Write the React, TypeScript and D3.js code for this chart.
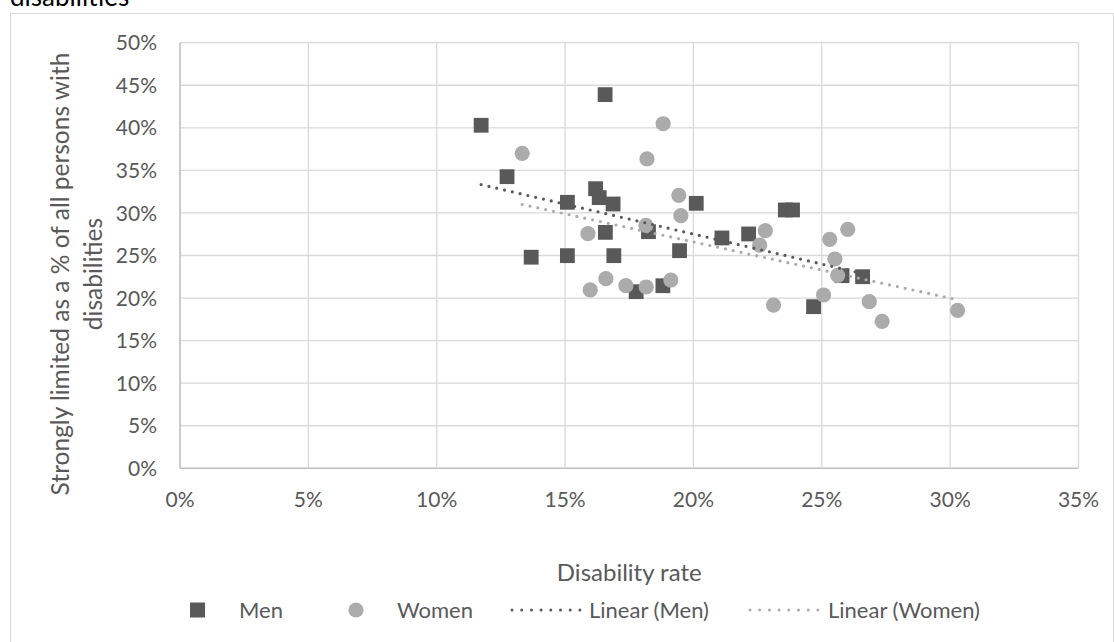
import React from 'react';
import * as d3 from 'd3';

// Men: disability rate (%) and strongly limited share (%)
const menRate = [16.56, 11.73, 12.74, 16.19, 16.33, 16.87, 15.09, 20.11, 16.57, 18.25, 21.11, 13.68, 15.09, 16.9, 19.46, 17.77, 18.81, 22.15, 23.58, 23.86, 25.79, 26.59, 24.68];
const menLimited = [43.9, 40.3, 34.26, 32.85, 31.8, 31.05, 31.25, 31.13, 27.72, 27.8, 27.06, 24.8, 24.98, 24.98, 25.57, 20.75, 21.45, 27.53, 30.35, 30.35, 22.63, 22.51, 18.99];

// Women
const womenRate = [18.82, 13.33, 18.19, 19.43, 19.51, 18.15, 15.89, 15.98, 16.59, 17.37, 18.16, 19.12, 22.8, 22.58, 25.31, 26.01, 25.51, 25.62, 23.12, 25.07, 26.85, 27.35, 30.29];
const womenLimited = [40.48, 37.0, 36.34, 32.07, 29.68, 28.55, 27.56, 20.95, 22.28, 21.45, 21.3, 22.12, 27.92, 26.23, 26.9, 28.08, 24.59, 22.67, 19.18, 20.36, 19.57, 17.27, 18.56];

const xTicks = [0, 5, 10, 15, 20, 25, 30, 35];
const yTicks = [0, 5, 10, 15, 20, 25, 30, 35, 40, 45, 50];

const legendLabels = ['Men', 'Women', 'Linear (Men)', 'Linear (Women)'];

const MEN = '#595959';
const WOMEN = '#ABABAB';
const GRID = '#d9d9d9';
const TEXT = '#595959';
const FONT = 'Lato, "Open Sans", sans-serif';

function linfit(xs: number[], ys: number[]) {
  const mx = d3.mean(xs)!;
  const my = d3.mean(ys)!;
  let num = 0, den = 0;
  xs.forEach((x, i) => { num += (x - mx) * (ys[i] - my); den += (x - mx) * (x - mx); });
  const b = num / den;
  const a = my - b * mx;
  const [x0, x1] = d3.extent(xs) as [number, number];
  return [[x0, a + b * x0], [x1, a + b * x1]] as [number, number][];
}

export default function App() {
  const W = 1114, H = 642;
  const x = d3.scaleLinear().domain([0, 35]).range([180, 1078.5]);
  const y = d3.scaleLinear().domain([0, 50]).range([468.3, 42.7]);
  const line = d3.line<[number, number]>().x(d => x(d[0])).y(d => y(d[1]));
  const menTrend = linfit(menRate, menLimited);
  const womenTrend = linfit(womenRate, womenLimited);
  const sq = 14.8;
  const ly = 610;

  return (
    <svg width={W} height={H} style={{ position: 'absolute', left: 0, top: 0, background: '#fff' }} fontFamily={FONT}>
      <text x={10} y={6} fontSize={26} fill="#000">disabilities</text>
      <rect x={10.5} y={13.5} width={1103} height={640} fill="#fff" stroke={GRID} strokeWidth={1} />

      {/* grid */}
      {yTicks.map(t => (
        <line key={'gy' + t} x1={x(0)} x2={x(35)} y1={y(t)} y2={y(t)} stroke={t === 0 ? '#bfbfbf' : GRID} strokeWidth={t === 0 ? 1.6 : 1.3} />
      ))}
      {xTicks.map(t => (
        <line key={'gx' + t} x1={x(t)} x2={x(t)} y1={y(0)} y2={y(50)} stroke={t === 0 ? '#bfbfbf' : GRID} strokeWidth={t === 0 ? 1.6 : 1.3} />
      ))}

      {/* tick labels */}
      {yTicks.map(t => (
        <text key={'ty' + t} x={157} y={y(t)} dy="0.36em" textAnchor="end" fontSize={21} fill={TEXT}>{t}%</text>
      ))}
      {xTicks.map(t => (
        <text key={'tx' + t} x={x(t)} y={499.5} dy="0.36em" textAnchor="middle" fontSize={21} fill={TEXT}>{t}%</text>
      ))}

      {/* axis titles */}
      <text x={(x(0) + x(35)) / 2} y={572} dy="0.36em" textAnchor="middle" fontSize={24} fill={TEXT}>Disability rate</text>
      <g transform="translate(60,274) rotate(-90)">
        <text x={0} y={0} dy="0.36em" textAnchor="middle" fontSize={24.5} fill={TEXT}>Strongly limited as a % of all persons with</text>
        <text x={0} y={33} dy="0.36em" textAnchor="middle" fontSize={24.5} fill={TEXT}>disabilities</text>
      </g>

      {/* markers */}
      {menRate.map((r, i) => (
        <rect key={'m' + i} x={x(r) - sq / 2} y={y(menLimited[i]) - sq / 2} width={sq} height={sq} fill={MEN} />
      ))}
      {womenRate.map((r, i) => (
        <circle key={'w' + i} cx={x(r)} cy={y(womenLimited[i])} r={7.6} fill={WOMEN} />
      ))}

      {/* trendlines */}
      <path d={line(menTrend)!} fill="none" stroke={MEN} strokeWidth={3.2} strokeLinecap="round" strokeDasharray="0 8" />
      <path d={line(womenTrend)!} fill="none" stroke={WOMEN} strokeWidth={3.2} strokeLinecap="round" strokeDasharray="0 8" />

      {/* legend */}
      <rect x={190} y={ly - 7.5} width={15} height={15} fill={MEN} />
      <text x={239} y={ly} dy="0.36em" fontSize={22} fill={TEXT}>{legendLabels[0]}</text>
      <circle cx={356} cy={ly} r={7.6} fill={WOMEN} />
      <text x={397} y={ly} dy="0.36em" fontSize={22} fill={TEXT}>{legendLabels[1]}</text>
      <line x1={512} x2={580} y1={ly} y2={ly} stroke={MEN} strokeWidth={3} strokeLinecap="round" strokeDasharray="0 9.7" />
      <text x={589} y={ly} dy="0.36em" fontSize={22} fill={TEXT}>{legendLabels[2]}</text>
      <line x1={750} x2={818} y1={ly} y2={ly} stroke={WOMEN} strokeWidth={3} strokeLinecap="round" strokeDasharray="0 9.7" />
      <text x={828} y={ly} dy="0.36em" fontSize={22} fill={TEXT}>{legendLabels[3]}</text>
    </svg>
  );
}
